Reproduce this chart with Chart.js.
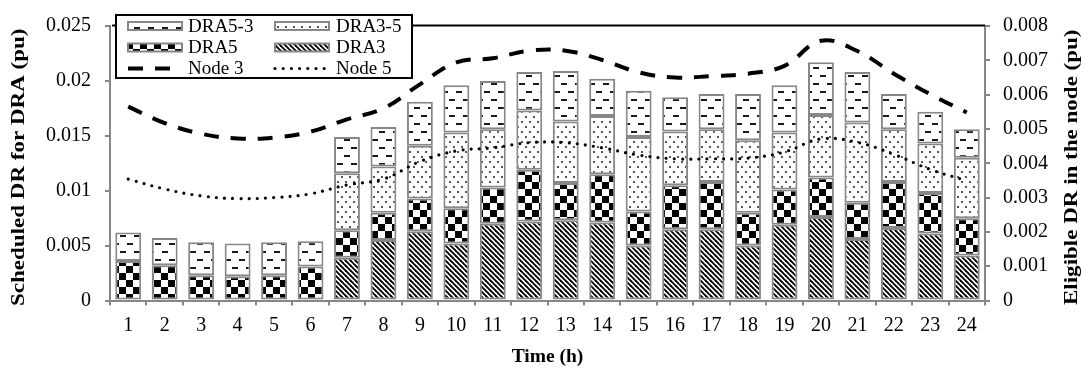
<!DOCTYPE html>
<html>
<head>
<meta charset="utf-8">
<script src="https://cdn.jsdelivr.net/npm/chart.js@4.4.1/dist/chart.umd.min.js"></script>
<style>
  html, body { margin: 0; padding: 0; background: #fff; }
  #wrap { width: 1086px; height: 371px; }
</style>
</head>
<body>
<div id="wrap"><canvas id="c" width="1086" height="371"></canvas></div>
<script>
// Hours of the day
const hours = ['1','2','3','4','5','6','7','8','9','10','11','12',
               '13','14','15','16','17','18','19','20','21','22','23','24'];

// Scheduled DR per DRA (pu), stacked bottom to top
const dra3  = [0, 0, 0, 0, 0, 0, 0.0039, 0.0055, 0.0063, 0.0052, 0.0070, 0.0072,
               0.0073, 0.0071, 0.0050, 0.0065, 0.0065, 0.0050, 0.0069, 0.0076, 0.0056, 0.0066, 0.0061, 0.0041];
const dra5  = [0.0036, 0.0032, 0.0023, 0.0022, 0.0023, 0.0031, 0.0025, 0.0025, 0.0030, 0.0032, 0.0033, 0.0047,
               0.0034, 0.0044, 0.0031, 0.0040, 0.0043, 0.0030, 0.0032, 0.0036, 0.0033, 0.0042, 0.0037, 0.0034];
const dra35 = [0, 0, 0, 0, 0, 0, 0.0052, 0.0042, 0.0048, 0.0069, 0.0053, 0.0054,
               0.0056, 0.0053, 0.0068, 0.0049, 0.0048, 0.0066, 0.0052, 0.0057, 0.0073, 0.0048, 0.0045, 0.0055];
const dra53 = [0.0026, 0.0025, 0.0030, 0.0030, 0.0030, 0.0023, 0.0033, 0.0036, 0.0040, 0.0043, 0.0044, 0.0035,
               0.0046, 0.0034, 0.0042, 0.0031, 0.0032, 0.0042, 0.0043, 0.0048, 0.0046, 0.0032, 0.0029, 0.0026];

// Eligible DR in the node (pu)
const node3 = [0.00565, 0.00517, 0.00486, 0.00472, 0.00475, 0.00492, 0.00528, 0.00560, 0.00630, 0.00694, 0.00706, 0.00728,
               0.00728, 0.00701, 0.00665, 0.00650, 0.00654, 0.00661, 0.00684, 0.00757, 0.00727, 0.00661, 0.00601, 0.00548];
const node5 = [0.00354, 0.00325, 0.00305, 0.00297, 0.00300, 0.00311, 0.00337, 0.00354, 0.00405, 0.00436, 0.00445, 0.00460,
               0.00460, 0.00445, 0.00424, 0.00413, 0.00413, 0.00415, 0.00433, 0.00471, 0.00461, 0.00426, 0.00382, 0.00349];

// Axis ranges
const leftMax = 0.025, leftStep = 0.005;
const rightMax = 0.008, rightStep = 0.001;

const SERIF = '"Liberation Serif", "Times New Roman", serif';
const AXIS_GRAY = '#878787';

const canvas = document.getElementById('c');
const ctx = canvas.getContext('2d');

// ---- fill patterns -------------------------------------------------------
function tile(w, h, paint) {
  const c = document.createElement('canvas');
  c.width = w; c.height = h;
  const g = c.getContext('2d');
  g.fillStyle = '#fff';
  g.fillRect(0, 0, w, h);
  paint(g);
  return ctx.createPattern(c, 'repeat');
}
const hatchFill = tile(5, 5, g => {
  g.strokeStyle = '#000';
  g.lineWidth = 1.9;
  for (let k = -2; k <= 2; k++) {
    g.beginPath();
    g.moveTo(k * 5 - 5, -5);
    g.lineTo(k * 5 + 10, 10);
    g.stroke();
  }
});
const checkerFill = tile(14, 14, g => {
  g.fillStyle = '#000';
  g.fillRect(0, 0, 7, 7);
  g.fillRect(7, 7, 7, 7);
});
const dotFill = tile(8, 10, g => {
  g.fillStyle = '#555';
  g.fillRect(1, 1, 2, 2);
  g.fillRect(5, 6, 2, 2);
});
const dashFill = tile(14, 16, g => {
  g.fillStyle = '#1a1a1a';
  g.fillRect(1, 3, 6, 2);
  g.fillRect(8, 11, 6, 2);
});

const tickFmt = v => String(+Number(v).toFixed(4));

// ---- legend box drawn inside the plot -----------------------------------
const legendBox = {
  id: 'legendBox',
  afterDatasetsDraw(chart) {
    const c = chart.ctx;
    const ds = chart.data.datasets;
    const byLabel = l => ds.find(d => d.label === l);
    const rows = [['DRA5-3', 'DRA3-5'], ['DRA5', 'DRA3'], ['Node 3', 'Node 5']];
    const rowY = [26, 47.5, 68.5];
    const colX = [128, 275];
    const sw = 54;
    c.save();
    c.fillStyle = '#fff';
    c.fillRect(116, 15, 296, 63);
    c.strokeStyle = '#000';
    c.lineWidth = 2;
    c.strokeRect(116, 15, 296, 63);
    c.font = '19px ' + SERIF;
    c.textBaseline = 'middle';
    c.textAlign = 'left';
    rows.forEach((row, r) => {
      row.forEach((label, k) => {
        const d = byLabel(label);
        const x = colX[k], y = rowY[r];
        if (d.type === 'line') {
          c.save();
          c.strokeStyle = d.borderColor;
          c.lineWidth = d.borderWidth;
          c.lineCap = d.borderCapStyle || 'butt';
          c.setLineDash(d.borderDash || []);
          c.beginPath();
          c.moveTo(x, y);
          c.lineTo(x + sw, y);
          c.stroke();
          c.restore();
        } else {
          c.fillStyle = d.backgroundColor;
          c.fillRect(x, y - 4, sw, 8);
          c.strokeStyle = d.borderColor;
          c.lineWidth = 2;
          c.strokeRect(x, y - 4, sw, 8);
        }
        c.fillStyle = '#000';
        c.fillText(label, x + sw + (k === 0 ? 6 : 7), y + 1);
      });
    });
    c.restore();
  }
};

// ---- black frame line along the top of the plot area ---------------------
const topRule = {
  id: 'topRule',
  beforeDatasetsDraw(chart) {
    const { left, right, top } = chart.chartArea;
    const c = chart.ctx;
    c.save();
    c.strokeStyle = '#000';
    c.lineWidth = 2;
    c.beginPath();
    c.moveTo(left + 2, top - 0.5);
    c.lineTo(right, top - 0.5);
    c.stroke();
    c.restore();
  }
};

// ---- vertical axis titles (both read bottom to top) ----------------------
const sideTitles = {
  id: 'sideTitles',
  afterDraw(chart) {
    const c = chart.ctx;
    const { top, bottom } = chart.chartArea;
    const mid = (top + bottom) / 2 + 4;
    const put = (text, x) => {
      c.save();
      c.translate(x, mid);
      c.rotate(-Math.PI / 2);
      c.scale(1.18, 1);
      c.font = 'bold 19.5px ' + SERIF;
      c.fillStyle = '#000';
      c.textAlign = 'center';
      c.textBaseline = 'middle';
      c.fillText(text, 0, 0);
      c.restore();
    };
    put('Scheduled DR for DRA (pu)', 19);
    put('Eligible DR in the node (pu)', 1072);
  }
};

const barBase = {
  type: 'bar',
  yAxisID: 'y',
  stack: 'dra',
  borderColor: AXIS_GRAY,
  borderWidth: 2,
  borderSkipped: false,
  categoryPercentage: 1,
  barPercentage: 0.71,
  order: 1
};

new Chart(ctx, {
  type: 'bar',
  data: {
    labels: hours,
    datasets: [
      { type: 'line', label: 'Node 3', data: node3, yAxisID: 'y1', borderColor: '#000',
        borderWidth: 4, borderDash: [15, 12], borderCapStyle: 'butt', tension: 0.4,
        pointRadius: 0, fill: false, order: 0 },
      { type: 'line', label: 'Node 5', data: node5, yAxisID: 'y1', borderColor: '#000',
        borderWidth: 3.2, borderDash: [0, 8.2], borderCapStyle: 'round', tension: 0.4,
        pointRadius: 0, fill: false, order: 0 },
      Object.assign({}, barBase, { label: 'DRA3',   data: dra3,  backgroundColor: hatchFill }),
      Object.assign({}, barBase, { label: 'DRA5',   data: dra5,  backgroundColor: checkerFill }),
      Object.assign({}, barBase, { label: 'DRA3-5', data: dra35, backgroundColor: dotFill }),
      Object.assign({}, barBase, { label: 'DRA5-3', data: dra53, backgroundColor: dashFill })
    ]
  },
  options: {
    responsive: false,
    animation: false,
    devicePixelRatio: 1,
    layout: { padding: { top: 16.5, left: 0, right: 0, bottom: 0 } },
    plugins: { legend: { display: false }, tooltip: { enabled: false } },
    scales: {
      x: {
        stacked: true,
        offset: true,
        grid: { offset: true, drawOnChartArea: false, color: AXIS_GRAY, lineWidth: 2, tickLength: 5 },
        border: { color: AXIS_GRAY, width: 2 },
        ticks: { color: '#000', font: { family: SERIF, size: 20 }, padding: 8, autoSkip: false, maxRotation: 0 },
        title: { display: true, text: 'Time (h)', color: '#000',
                 font: { family: SERIF, size: 19.5, weight: 'bold' }, padding: { top: 0, bottom: 2.6 } },
        afterFit: s => { s.height = 70.5; }
      },
      y: {
        stacked: true,
        position: 'left',
        min: 0, max: leftMax,
        grid: { drawOnChartArea: false, color: AXIS_GRAY, lineWidth: 2, tickLength: 5 },
        border: { color: AXIS_GRAY, width: 2 },
        ticks: { stepSize: leftStep, callback: tickFmt, color: '#000',
                 font: { family: SERIF, size: 20 }, padding: 14 },
        afterFit: s => { s.width = 110; }
      },
      y1: {
        position: 'right',
        min: 0, max: rightMax,
        grid: { drawOnChartArea: false, color: AXIS_GRAY, lineWidth: 2, tickLength: 5 },
        border: { color: AXIS_GRAY, width: 2 },
        ticks: { stepSize: rightStep, callback: tickFmt, color: '#000',
                 font: { family: SERIF, size: 20 }, padding: 13 },
        afterFit: s => { s.width = 101; }
      }
    }
  },
  plugins: [topRule, legendBox, sideTitles]
});
</script>
</body>
</html>
